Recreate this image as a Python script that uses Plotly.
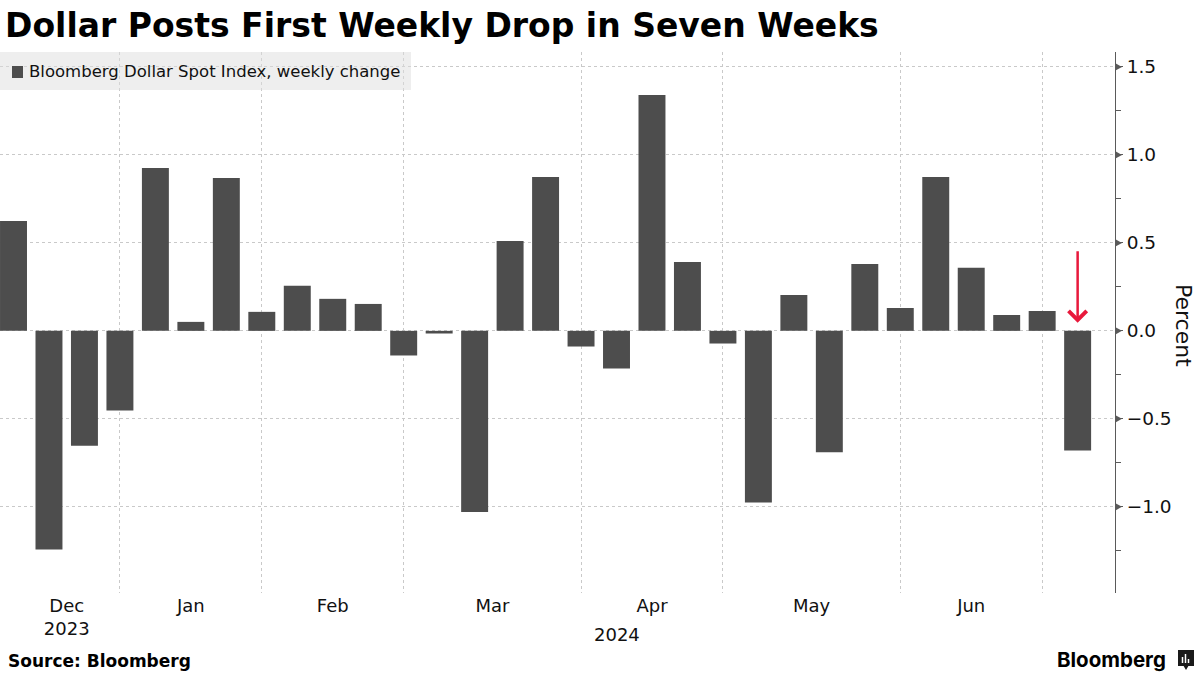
import plotly.graph_objects as go

# ---- data ----
week_ending = [
    "2023-12-15", "2023-12-22", "2023-12-29",
    "2024-01-05", "2024-01-12", "2024-01-19", "2024-01-26",
    "2024-02-02", "2024-02-09", "2024-02-16", "2024-02-23",
    "2024-03-01", "2024-03-08", "2024-03-15", "2024-03-22", "2024-03-29",
    "2024-04-05", "2024-04-12", "2024-04-19", "2024-04-26",
    "2024-05-03", "2024-05-10", "2024-05-17", "2024-05-24", "2024-05-31",
    "2024-06-07", "2024-06-14", "2024-06-21", "2024-06-28",
    "2024-07-05", "2024-07-12",
]
weekly_change = [
    0.625, -1.243, -0.653,
    -0.453, 0.926, 0.051, 0.869,
    0.108, 0.256, 0.182, 0.153,
    -0.140, -0.015, -1.030, 0.511, 0.875,
    -0.089, -0.214, 1.341, 0.392,
    -0.072, -0.976, 0.204, -0.690, 0.380,
    0.130, 0.875, 0.358, 0.090,
    0.113, -0.680,
]
series_name = "Bloomberg Dollar Spot Index, weekly change"

month_labels = ["Dec<br>2023", "Jan", "Feb", "Mar", "Apr", "May", "Jun"]
month_label_dates = ["2023-12-25 12:00", "2024-01-19", "2024-02-16", "2024-03-18 12:00",
                     "2024-04-19", "2024-05-20 12:00", "2024-06-21"]
month_first_weeks = ["2024-01-05", "2024-02-02", "2024-03-01", "2024-04-05",
                     "2024-05-03", "2024-06-07", "2024-07-05"]
year_label = "2024"
year_label_date = "2024-04-12"
y_ticks = [-1.0, -0.5, 0.0, 0.5, 1.0, 1.5]
highlight_week = "2024-07-12"

title_text = "Dollar Posts First Weekly Drop in Seven Weeks"
source_text = "Source: Bloomberg"

# ---- style ----
FONT = "DejaVu Sans"
BAR = "#4d4d4d"
GRID = "#c9c9c9"
TXT = "#111111"
RED = "#e8193c"
AXC = "#5a5a5a"

fig = go.Figure()
fig.add_trace(go.Bar(
    x=week_ending, y=weekly_change, name=series_name,
    marker=dict(color=BAR, line=dict(width=0)),
    showlegend=False,
))

W, H = 1200, 675
L, R, T, B = 0, 85, 52, 82
pw = W - L - R
ph = H - T - B


def px_x(p):
    return (p - L) / pw


def px_y(p):
    return (H - B - p) / ph


fig.update_layout(
    width=W, height=H,
    margin=dict(l=L, r=R, t=T, b=B, pad=0, autoexpand=False),
    paper_bgcolor="white", plot_bgcolor="white",
    font=dict(family=FONT, color=TXT, size=18),
    bargap=0.24,
    showlegend=False,
    title=dict(text=title_text, x=5 / W, xanchor="left", xref="container",
               y=1 - 25 / H, yanchor="middle", yref="container",
               font=dict(family=FONT, size=33, weight="bold", color="#000000")),
    xaxis=dict(
        type="date", automargin=False,
        range=["2023-12-12 08:00", "2024-07-19 09:00"],
        tickmode="array", tickvals=month_label_dates, ticktext=month_labels,
        ticks="", showgrid=False, zeroline=False, showline=False,
        tickfont=dict(family=FONT, size=18, color=TXT),
        minor=dict(tickmode="array", tickvals=month_first_weeks, showgrid=True,
                   gridcolor=GRID, griddash="dot", gridwidth=1, ticks=""),
    ),
    yaxis=dict(
        side="right", automargin=False, range=[-1.49, 1.585],
        tickmode="array", tickvals=y_ticks, tickformat=".1f",
        showgrid=True, gridcolor=GRID, griddash="dot", gridwidth=1,
        zeroline=False, showline=True, linecolor=AXC, linewidth=1,
        ticks="outside", ticklen=7, tickwidth=1, tickcolor=AXC,
        tickfont=dict(family=FONT, size=18.5, color=TXT),
        minor=dict(dtick=0.25, tick0=0, ticks="outside", ticklen=5,
                   tickcolor=AXC, tickwidth=1, showgrid=False),
    ),
)

# major tick triangles on the right axis
for v in y_ticks:
    fig.add_shape(type="path", xref="paper", yref="y",
                  path=f"M 1.0 {v - 0.022} L {px_x(L + pw + 7)} {v} L 1.0 {v + 0.022} Z",
                  fillcolor=AXC, line=dict(width=0), layer="above")

# legend box (drawn by hand to match the source layout)
fig.add_shape(type="rect", xref="paper", yref="paper",
              x0=px_x(0), x1=px_x(411), y0=px_y(90), y1=px_y(52),
              fillcolor="rgba(222,222,222,0.5)", line=dict(width=0), layer="above")
fig.add_shape(type="rect", xref="paper", yref="paper",
              x0=px_x(12), x1=px_x(23), y0=px_y(78), y1=px_y(66),
              fillcolor=BAR, line=dict(width=0), layer="above")

annotations = [
    dict(text=series_name, x=px_x(27), xref="paper", y=px_y(71.5), yref="paper",
         xanchor="left", yanchor="middle", showarrow=False,
         font=dict(family=FONT, size=16.5, color=TXT)),
    dict(text=year_label, x=year_label_date, xref="x", y=px_y(634), yref="paper",
         xanchor="center", yanchor="middle", showarrow=False,
         font=dict(family=FONT, size=18, color=TXT)),
    dict(text="Percent", x=px_x(1184), xref="paper", y=px_y(325), yref="paper",
         textangle=90, xanchor="center", yanchor="middle", showarrow=False,
         font=dict(family=FONT, size=22, color=TXT)),
    dict(text=source_text, x=px_x(6), xref="paper", y=px_y(661), yref="paper",
         xanchor="left", yanchor="middle", showarrow=False,
         font=dict(family=FONT, size=17, weight="bold", color="#000000")),
    dict(text="Bloomberg", x=px_x(1168), xref="paper", y=px_y(659), yref="paper",
         xanchor="right", yanchor="middle", showarrow=False,
         font=dict(family="Inter", size=20.5, weight="bold", color="#000000")),
    dict(text="", x=highlight_week, xref="x", y=0, yref="y",
         showarrow=True, ax=0, ay=-81, standoff=8,
         arrowhead=4, arrowsize=1.4, arrowwidth=2.5, arrowcolor=RED),
]
fig.update_layout(annotations=annotations)

# Bloomberg logo icon
fig.add_shape(type="rect", xref="paper", yref="paper",
              x0=px_x(1178), x1=px_x(1194), y0=px_y(666), y1=px_y(650),
              fillcolor="#1a1a1a", line=dict(width=0))
fig.add_shape(type="path", xref="paper", yref="paper",
              path=f"M {px_x(1183)} {px_y(665)} L {px_x(1186)} {px_y(670)} L {px_x(1189)} {px_y(665)} Z",
              fillcolor="#1a1a1a", line=dict(width=0))
for xx, top in [(1182.5, 657), (1185.5, 654), (1188.5, 659)]:
    fig.add_shape(type="line", xref="paper", yref="paper",
                  x0=px_x(xx), x1=px_x(xx), y0=px_y(663), y1=px_y(top),
                  line=dict(color="white", width=1.5))

fig.write_html(
    "out.html",
    config={"displayModeBar": False},
    post_script="document.body.style.margin='0';document.body.style.padding='0';"
                "document.body.style.overflow='hidden';",
)
